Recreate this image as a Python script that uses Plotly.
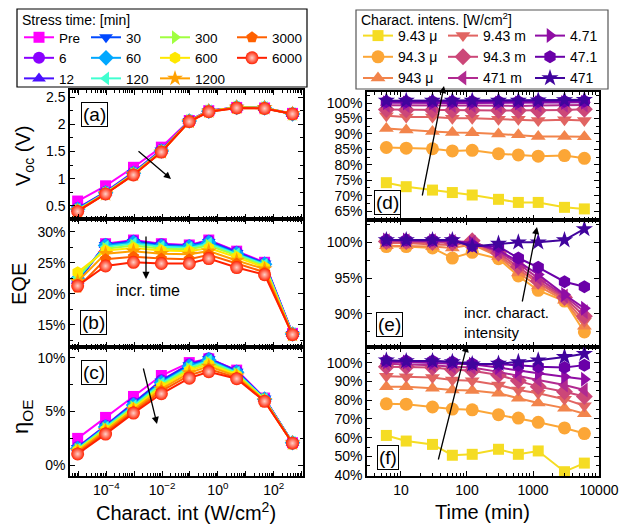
import plotly.graph_objects as go
import numpy as np

W, H = 619, 529
def fx(p): return p / W
def fy(p): return 1 - p / H

# ---------------- data ----------------
intensity = [9.43e-6, 9.43e-5, 9.43e-4, 9.43e-3, 9.43e-2, 0.471, 4.71, 47.1, 471]
stress_labels = ['Pre', '6', '12', '30', '60', '120', '300', '600', '1200', '3000', '6000']
stress_colors = ['#ff00ff', '#8a00ff', '#4a10ff', '#0048ff', '#00a8ff', '#40ffd0',
                 '#a0ff40', '#ffe800', '#ffa000', '#ff6000', '#ff2000']
stress_symbols = ['square', 'circle', 'triangle-up', 'triangle-down', 'diamond', 'triangle-left',
                  'triangle-right', 'hexagon', 'star', 'pentagon', 'circle']

voc_pre = [0.59, 0.87, 1.21, 1.58, 2.07, 2.25, 2.31, 2.30, 2.20]
voc_6 = [0.46, 0.76, 1.12, 1.53, 2.07, 2.25, 2.31, 2.30, 2.19]
voc_12 = [0.45, 0.75, 1.11, 1.52, 2.07, 2.25, 2.31, 2.30, 2.19]
voc_30 = [0.44, 0.75, 1.10, 1.52, 2.06, 2.24, 2.31, 2.30, 2.19]
voc_60 = [0.44, 0.74, 1.10, 1.51, 2.06, 2.24, 2.31, 2.30, 2.19]
voc_120 = [0.43, 0.74, 1.09, 1.51, 2.06, 2.24, 2.31, 2.30, 2.19]
voc_300 = [0.42, 0.73, 1.09, 1.50, 2.06, 2.24, 2.31, 2.30, 2.19]
voc_600 = [0.42, 0.73, 1.08, 1.50, 2.06, 2.24, 2.31, 2.30, 2.19]
voc_1200 = [0.41, 0.72, 1.08, 1.49, 2.05, 2.24, 2.31, 2.30, 2.19]
voc_3000 = [0.41, 0.72, 1.07, 1.49, 2.05, 2.23, 2.30, 2.29, 2.19]
voc_6000 = [0.40, 0.72, 1.07, 1.49, 2.05, 2.23, 2.30, 2.29, 2.19]

eqe_pre = [22.0, 28.1, 28.7, 28.1, 27.9, 28.7, 26.9, 25.1, 13.6]
eqe_6 = [22.0, 28.0, 28.6, 28.0, 27.8, 28.6, 26.8, 25.0, 13.6]
eqe_12 = [22.1, 27.9, 28.5, 27.9, 27.7, 28.5, 26.7, 24.9, 13.5]
eqe_30 = [22.2, 27.9, 28.4, 27.8, 27.7, 28.4, 26.6, 24.9, 13.5]
eqe_60 = [22.4, 27.8, 28.3, 27.7, 27.6, 28.3, 26.5, 24.8, 13.5]
eqe_120 = [22.6, 27.6, 28.1, 27.6, 27.4, 28.1, 26.4, 24.7, 13.5]
eqe_300 = [22.9, 27.3, 27.8, 27.3, 27.2, 27.8, 26.2, 24.5, 13.4]
eqe_600 = [23.5, 27.0, 27.4, 27.0, 26.9, 27.4, 25.9, 24.3, 13.4]
eqe_1200 = [22.0, 26.5, 26.9, 26.5, 26.4, 26.9, 25.4, 24.0, 13.4]
eqe_3000 = [21.0, 25.6, 26.0, 25.7, 25.6, 26.3, 24.9, 23.5, 13.3]
eqe_6000 = [21.3, 24.5, 25.1, 24.9, 24.9, 25.7, 24.25, 23.1, 13.4]

eta_pre = [2.5, 4.45, 6.4, 8.35, 9.55, 9.9, 8.85, 6.25, 2.1]
eta_6 = [1.7, 3.7, 5.8, 7.9, 9.4, 9.95, 8.8, 6.2, 2.1]
eta_12 = [1.65, 3.65, 5.75, 7.85, 9.35, 9.9, 8.75, 6.2, 2.1]
eta_30 = [1.6, 3.6, 5.7, 7.8, 9.3, 9.85, 8.7, 6.2, 2.1]
eta_60 = [1.55, 3.55, 5.6, 7.7, 9.2, 9.8, 8.65, 6.15, 2.1]
eta_120 = [1.5, 3.5, 5.5, 7.6, 9.1, 9.7, 8.6, 6.15, 2.1]
eta_300 = [1.45, 3.4, 5.4, 7.45, 8.95, 9.55, 8.5, 6.1, 2.05]
eta_600 = [1.4, 3.3, 5.3, 7.3, 8.8, 9.4, 8.4, 6.05, 2.05]
eta_1200 = [1.3, 3.2, 5.15, 7.1, 8.6, 9.2, 8.3, 6.0, 2.05]
eta_3000 = [1.15, 3.05, 5.0, 6.9, 8.35, 8.95, 8.15, 5.95, 2.05]
eta_6000 = [1.05, 2.9, 4.85, 6.65, 8.1, 8.7, 8.05, 5.95, 2.05]

voc_all = [voc_pre, voc_6, voc_12, voc_30, voc_60, voc_120, voc_300, voc_600, voc_1200, voc_3000, voc_6000]
eqe_all = [eqe_pre, eqe_6, eqe_12, eqe_30, eqe_60, eqe_120, eqe_300, eqe_600, eqe_1200, eqe_3000, eqe_6000]
eta_all = [eta_pre, eta_6, eta_12, eta_30, eta_60, eta_120, eta_300, eta_600, eta_1200, eta_3000, eta_6000]

time_min = [6, 12, 30, 60, 120, 300, 600, 1200, 3000, 6000]
int_labels = ['9.43 μ', '94.3 μ', '943 μ', '9.43 m', '94.3 m', '471 m', '4.71', '47.1', '471']
int_colors = ['#f5dc23', '#fca636', '#f2844b', '#e16462', '#cc4778', '#b12a90', '#8f0da4', '#6a00a8', '#41049d']
int_symbols = ['square', 'circle', 'triangle-up', 'triangle-down', 'diamond', 'triangle-left',
               'triangle-right', 'hexagon', 'star']

d_9p43u = [74.2, 72.9, 71.8, 71.0, 70.2, 68.8, 67.8, 67.8, 66.2, 65.7]
d_94p3u = [85.6, 85.4, 85.2, 84.5, 84.7, 83.6, 83.2, 82.8, 83.0, 82.1]
d_943u = [91.8, 91.3, 90.8, 90.5, 90.4, 90.0, 89.7, 89.2, 89.2, 89.1]
d_9p43m = [95.9, 95.5, 95.5, 95.1, 95.1, 94.8, 94.8, 94.4, 94.6, 94.4]
d_94p3m = [97.9, 97.8, 97.7, 97.7, 97.7, 97.6, 97.6, 97.6, 97.8, 98.0]
d_471m = [99.3, 99.2, 99.2, 99.2, 99.2, 99.1, 99.1, 99.2, 99.3, 99.4]
d_4p71 = [100.1, 100.0, 100.0, 100.0, 100.0, 100.0, 100.0, 100.1, 100.2, 100.3]
d_47p1 = [100.5, 100.5, 100.5, 100.5, 100.5, 100.5, 100.5, 100.6, 100.6, 100.7]
d_471 = [100.8, 100.8, 100.8, 100.8, 100.8, 100.8, 100.8, 100.9, 101.0, 101.1]

e_94p3u = [99.4, 99.4, 99.2, 97.8, 98.6, 97.7, 95.3, 93.3, 91.8, 87.5]
e_943u = [99.5, 99.5, 99.4, 99.2, 99.7, 98.0, 95.7, 93.9, 91.9, 88.3]
e_9p43m = [99.9, 99.9, 99.7, 99.6, 100.0, 98.2, 96.2, 94.3, 92.1, 89.0]
e_94p3m = [100.1, 100.1, 100.0, 99.9, 100.2, 98.5, 96.6, 94.6, 92.3, 89.7]
e_471m = [100.2, 100.2, 100.2, 100.1, 100.0, 98.7, 97.0, 95.0, 92.5, 90.3]
e_4p71 = [100.3, 100.3, 100.2, 100.2, 99.9, 98.9, 97.3, 95.5, 92.7, 90.8]
e_47p1 = [100.3, 100.3, 100.3, 100.2, 99.5, 99.4, 97.8, 96.5, 94.5, 93.8]
e_471 = [100.3, 100.3, 100.3, 100.3, 99.4, 99.8, 100.0, 100.0, 100.3, 101.85]

f_9p43u = [61.2, 58.2, 56.4, 50.6, 51.1, 53.8, 51.1, 52.9, 41.8, 46.4]
f_94p3u = [78.1, 77.9, 76.4, 75.3, 74.9, 72.3, 70.5, 68.2, 65.2, 62.2]
f_943u = [87.3, 87.3, 86.4, 85.5, 85.2, 83.8, 81.1, 78.5, 75.8, 72.8]
f_9p43m = [92.9, 92.6, 92.2, 90.8, 90.5, 88.2, 85.5, 83.8, 80.6, 77.1]
f_94p3m = [97.9, 97.9, 97.5, 96.5, 95.8, 93.5, 90.5, 87.3, 84.6, 82.0]
f_471m = [99.6, 99.3, 98.8, 97.9, 97.5, 95.2, 92.9, 90.8, 88.2, 85.5]
f_4p71 = [100.5, 100.5, 100.0, 99.6, 99.3, 97.5, 95.8, 94.4, 92.6, 91.2]
f_47p1 = [101.0, 101.0, 101.0, 100.5, 99.6, 99.3, 98.8, 97.9, 97.5, 98.8]
f_471 = [101.4, 101.0, 101.0, 100.5, 99.3, 99.6, 100.5, 101.4, 103.2, 104.9]

d_all = [d_9p43u, d_94p3u, d_943u, d_9p43m, d_94p3m, d_471m, d_4p71, d_47p1, d_471]
e_all = [None, e_94p3u, e_943u, e_9p43m, e_94p3m, e_471m, e_4p71, e_47p1, e_471]
f_all = [f_9p43u, f_94p3u, f_943u, f_9p43m, f_94p3m, f_471m, f_4p71, f_47p1, f_471]

# ---------------- figure ----------------
FONT = 'Arial, Liberation Sans, sans-serif'
fig = go.Figure()

left_legends = ['legend', 'legend', 'legend', 'legend2', 'legend2', 'legend2',
                'legend3', 'legend3', 'legend3', 'legend4', 'legend4']
right_legends = ['legend5', 'legend5', 'legend5', 'legend6', 'legend6', 'legend6',
                 'legend7', 'legend7', 'legend7']

for panel, (xa, ya, data) in enumerate([('x', 'y', voc_all), ('x2', 'y2', eqe_all), ('x3', 'y3', eta_all)]):
    for i, lab in enumerate(stress_labels):
        marker = dict(symbol=stress_symbols[i], color=stress_colors[i],
                      size=11 if stress_symbols[i] == 'square' else 12, line=dict(width=0))
        if lab == '6000':
            marker['size'] = 13
            marker['gradient'] = dict(type='radial', color='#ffd0c8')
        fig.add_trace(go.Scatter(
            x=intensity, y=data[i], mode='lines+markers', name=lab,
            line=dict(color=stress_colors[i], width=2), marker=marker,
            xaxis=xa, yaxis=ya, showlegend=(panel == 0), legend=left_legends[i]))

for panel, (xa, ya, data) in enumerate([('x4', 'y4', d_all), ('x5', 'y5', e_all), ('x6', 'y6', f_all)]):
    for i, lab in enumerate(int_labels):
        if data[i] is None:
            continue
        fig.add_trace(go.Scatter(
            x=time_min, y=data[i], mode='lines+markers', name=lab,
            line=dict(color=int_colors[i], width=2),
            marker=dict(symbol=int_symbols[i], color=int_colors[i],
                        size=11 if int_symbols[i] == 'square' else 13, line=dict(width=0)),
            xaxis=xa, yaxis=ya, showlegend=(panel == 0), legend=right_legends[i]))

base_ax = dict(showline=True, linecolor='black', linewidth=1.5, mirror='allticks',
               ticks='inside', ticklen=5, tickwidth=1.3, tickcolor='black', automargin=False,
               showgrid=False, zeroline=False, tickfont=dict(size=14, color='black', family=FONT))
minor_base = dict(ticks='inside', ticklen=3, tickwidth=1, tickcolor='black', showgrid=False)

left_dom = [fx(70), fx(303)]
right_dom = [fx(367), fx(599)]

lx_vals = [10.0 ** k for k in range(-5, 4)]
lx_text = [' ', '10<sup>−4</sup>', ' ', '10<sup>−2</sup>', ' ', '10<sup>0</sup>', ' ', '10<sup>2</sup>', ' ']
lx_minor = [m * 10.0 ** k for k in range(-6, 4) for m in range(2, 10)]
rx_vals = [10, 100, 1000, 10000]
rx_text = ['10', '100', '1000', '10000']
rx_minor = [m * 10.0 ** k for k in range(0, 4) for m in range(2, 10)]

def xaxis_left(show):
    return dict(base_ax, type='log', domain=left_dom, range=[-5.3, 3.05], tickmode='array',
                tickvals=lx_vals, ticktext=lx_text, showticklabels=show,
                minor=dict(minor_base, tickmode='array', tickvals=lx_minor))

def xaxis_right(show):
    return dict(base_ax, type='log', domain=right_dom, range=[0.485, 4.0], tickmode='array',
                tickvals=rx_vals, ticktext=rx_text, showticklabels=show,
                minor=dict(minor_base, tickmode='array', tickvals=rx_minor))

def yax(dom, rng, vals, text, minor_vals, anchor):
    return dict(base_ax, domain=dom, range=rng, tickmode='array', tickvals=vals, ticktext=text,
                anchor=anchor, minor=dict(minor_base, tickmode='array', tickvals=minor_vals))

pct = lambda v: [f'{x:g}%' for x in v]

fig.update_layout(
    xaxis=dict(xaxis_left(False), anchor='y'),
    xaxis2=dict(xaxis_left(False), anchor='y2'),
    xaxis3=dict(xaxis_left(True), anchor='y3'),
    xaxis4=dict(xaxis_right(False), anchor='y4'),
    xaxis5=dict(xaxis_right(False), anchor='y5'),
    xaxis6=dict(xaxis_right(True), anchor='y6'),
    yaxis=yax([fy(219), fy(90)], [0.26, 2.63], [0.5, 1, 1.5, 2, 2.5], ['0.5', '1', '1.5', '2', '2.5'],
              [0.25, 0.75, 1.25, 1.75, 2.25], 'x'),
    yaxis2=yax([fy(347), fy(219)], [11.4, 32.1], [15, 20, 25, 30], pct([15, 20, 25, 30]),
               [12.5, 17.5, 22.5, 27.5], 'x2'),
    yaxis3=yax([fy(476), fy(347)], [-1.0, 11.0], [0, 5, 10], pct([0, 5, 10]), [2.5, 7.5], 'x3'),
    yaxis4=yax([fy(220), fy(92)], [62.1, 103.6], [65, 70, 75, 80, 85, 90, 95, 100],
               pct([65, 70, 75, 80, 85, 90, 95, 100]), [62.5, 67.5, 72.5, 77.5, 82.5, 87.5, 92.5, 97.5, 102.5], 'x4'),
    yaxis5=yax([fy(347), fy(220)], [85.4, 103.1], [90, 95, 100], pct([90, 95, 100]),
               [87.5, 92.5, 97.5, 102.5], 'x5'),
    yaxis6=yax([fy(476), fy(347)], [39.5, 108.5], [40, 50, 60, 70, 80, 90, 100],
               pct([40, 50, 60, 70, 80, 90, 100]), [45, 55, 65, 75, 85, 95, 105], 'x6'),
)

# legends (container coordinates so that they never push the margins)
leg_common = dict(bgcolor='rgba(0,0,0,0)', borderwidth=0,
                  xanchor='left', yanchor='top', orientation='v', tracegroupgap=0, itemwidth=30,
                  xref='container', yref='container')
lfont = dict(size=13.5, color='black', family=FONT)
rfont = dict(size=14, color='black', family=FONT)
fig.update_layout(
    legend=dict(leg_common, font=lfont, x=fx(19), y=fy(22)),
    legend2=dict(leg_common, font=lfont, x=fx(86), y=fy(22)),
    legend3=dict(leg_common, font=lfont, x=fx(155), y=fy(22)),
    legend4=dict(leg_common, font=lfont, x=fx(232), y=fy(22)),
    legend5=dict(leg_common, font=rfont, x=fx(358), y=fy(20)),
    legend6=dict(leg_common, font=rfont, x=fx(443), y=fy(20)),
    legend7=dict(leg_common, font=rfont, x=fx(530), y=fy(20)),
)

shapes = [
    dict(type='rect', xref='paper', yref='paper', x0=fx(17), x1=fx(307), y0=fy(87), y1=fy(9),
         line=dict(color='black', width=1.2), fillcolor='rgba(0,0,0,0)', layer='above'),
    dict(type='rect', xref='paper', yref='paper', x0=fx(356), x1=fx(608), y0=fy(89), y1=fy(10),
         line=dict(color='#555555', width=1.2), fillcolor='rgba(0,0,0,0)', layer='above'),
]

ann = []
def txt(x, y, s, size, **kw):
    d = dict(xref='paper', yref='paper', x=fx(x), y=fy(y), text=s, showarrow=False,
             xanchor='center', yanchor='middle',
             font=dict(size=size, color='black', family=FONT))
    d.update(kw)
    ann.append(d)

txt(20, 20, 'Stress time: [min]', 14, xanchor='left')
txt(359, 19, 'Charact. intens. [W/cm<sup>2</sup>]', 14, xanchor='left')
# axis titles
txt(25, 156, 'V<sub>oc</sub> (V)', 20, textangle=-90)
txt(19, 284, 'EQE', 20, textangle=-90)
txt(22, 417, 'η<sub>OE</sub>', 22, textangle=-90)
txt(186, 511, 'Charact. int (W/cm<sup>2</sup>)', 20)
txt(482, 512, 'Time (min)', 20)
# panel labels
for lab, (cx, cy) in zip(['(a)', '(b)', '(c)', '(d)', '(e)', '(f)'],
                         [(95, 115), (93.5, 322.5), (93.5, 372.5), (387.5, 202.5), (389, 324.5), (387.5, 457)]):
    txt(cx, cy, lab, 19, bordercolor='black', borderwidth=1, borderpad=1, bgcolor='white')
txt(148, 290, 'incr. time', 16)
txt(462, 323, 'incr. charact.<br>intensity', 15, xanchor='left', align='left')

def arrow(x0, y0, x1, y1):
    ann.append(dict(xref='paper', yref='paper', axref='pixel', ayref='pixel',
                    x=fx(x1), y=fy(y1), ax=x0 - x1, ay=y0 - y1, text='', showarrow=True,
                    arrowhead=2, arrowsize=1.1, arrowwidth=1.3, arrowcolor='black'))

arrow(137, 150, 171, 179)
arrow(146, 235, 146, 279)
arrow(143, 367, 157, 424)
arrow(422, 197, 444, 86)
arrow(522, 303, 537, 227)
arrow(438, 461, 467, 345)

fig.update_layout(width=W, height=H, margin=dict(l=0, r=0, t=0, b=0, autoexpand=False),
                  paper_bgcolor='white', plot_bgcolor='white',
                  font=dict(family=FONT, color='black'),
                  shapes=shapes, annotations=ann)

fig.write_html('out.html')
